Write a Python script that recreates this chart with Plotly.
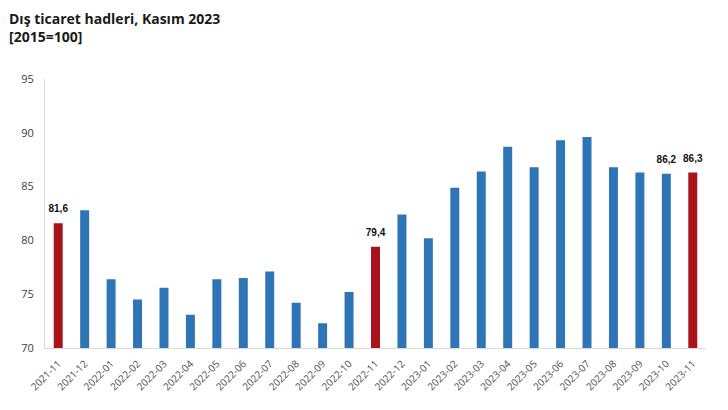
import plotly.graph_objects as go

categories = ["2021-11", "2021-12", "2022-01", "2022-02", "2022-03", "2022-04", "2022-05",
              "2022-06", "2022-07", "2022-08", "2022-09", "2022-10", "2022-11", "2022-12",
              "2023-01", "2023-02", "2023-03", "2023-04", "2023-05", "2023-06", "2023-07",
              "2023-08", "2023-09", "2023-10", "2023-11"]
values = [81.6, 82.8, 76.4, 74.5, 75.6, 73.1, 76.4, 76.5, 77.1, 74.2, 72.3, 75.2, 79.4,
          82.4, 80.2, 84.9, 86.4, 88.7, 86.8, 89.3, 89.6, 86.8, 86.3, 86.2, 86.3]
highlight = ["2021-11", "2022-11", "2023-11"]
labelled = ["2021-11", "2022-11", "2023-10", "2023-11"]
y_ticks = [70, 75, 80, 85, 90, 95]

BLUE = "#2E75B6"
RED = "#A8141C"

colors = [RED if c in highlight else BLUE for c in categories]
lab_x = [c for c in categories if c in labelled]
lab_y = [v for c, v in zip(categories, values) if c in labelled]
lab_t = ["<b>" + f"{v:.1f}".replace(".", ",") + "</b>" for v in lab_y]

# page body has an 8px margin; figure sits at (8, 8)
OFF = 8
W, H = 712, 394
L, R, T, B = 45 - OFF, 14, 79 - OFF, 54
plot_w = W - L - R
plot_h = H - T - B

fig = go.Figure()
fig.add_trace(go.Bar(x=categories, y=values, marker=dict(color=colors, line=dict(width=0)),
                     hoverinfo="x+y"))
fig.add_trace(go.Scatter(x=lab_x, y=lab_y, text=lab_t, mode="markers+text",
                         textposition="top center", cliponaxis=False, hoverinfo="skip",
                         marker=dict(size=12, color="rgba(0,0,0,0)"),
                         textfont=dict(family="Arial, Liberation Sans", size=10, color="#111111")))

def py(ypix):
    return (H - B - (ypix - OFF)) / plot_h

title_x = (0 - L) / plot_w
fig.add_annotation(text="<b>Dış ticaret hadleri, Kasım 2023</b>", xref="paper", yref="paper",
                   x=title_x, y=py(OFF), xanchor="left", yanchor="top", borderpad=0,
                   showarrow=False, font=dict(family="Open Sans", size=14, color="#1a1a1a"))
fig.add_annotation(text="<b>[2015=100]</b>", xref="paper", yref="paper",
                   x=title_x, y=py(37), xanchor="left", yanchor="middle", borderpad=0,
                   showarrow=False, font=dict(family="Open Sans", size=14, color="#1a1a1a"))

fig.update_layout(
    width=W, height=H, margin=dict(l=L, r=R, t=T, b=B),
    paper_bgcolor="white", plot_bgcolor="white",
    bargap=0.66, showlegend=False,
    font=dict(family="Open Sans", color="#404040"),
)
fig.update_xaxes(type="category", range=[-0.5, len(categories) - 0.5], tickangle=-45,
                 tickfont=dict(size=10, color="#505050"), ticklabelstandoff=5,
                 showline=True, linecolor="#d9d9d9", linewidth=1, showgrid=False, ticks="",
                 automargin=False)
fig.update_yaxes(range=[70, 95], tickvals=y_ticks, tickfont=dict(size=11, color="#404040"),
                 showline=True, linecolor="#d9d9d9", linewidth=1, showgrid=False, ticks="",
                 zeroline=False, ticklabelstandoff=8, automargin=False)

fig.write_html("out.html")
